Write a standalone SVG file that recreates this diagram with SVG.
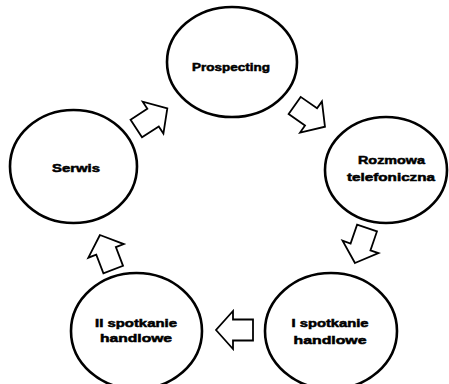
<svg xmlns="http://www.w3.org/2000/svg" xmlns:xlink="http://www.w3.org/1999/xlink" width="449" height="384" viewBox="0 0 449 384">
  <style>
    .stage { fill: #ffffff; stroke: #000000; stroke-width: 2.6; }
    .flow { fill: #ffffff; stroke: #000000; stroke-width: 1.8; stroke-linejoin: miter; }
    .label { font-family: "Liberation Sans", Arial, sans-serif; font-size: 11px; font-weight: bold; fill: #000000; stroke: #000000; stroke-width: 0.5; text-anchor: middle; }
  </style>
  <defs>
    <!-- block arrow pointing along +x, centred on the origin -->
    <path id="block-arrow" class="flow" d="M18.5,0 L1.5,-19 L1.5,-10.5 L-18.5,-10.5 L-18.5,10.5 L1.5,10.5 L1.5,19 Z"/>
  </defs>
  <rect width="449" height="384" fill="#ffffff"/>

  <g id="connectors">
    <use xlink:href="#block-arrow" transform="translate(309.8,116.1) rotate(35)"/>
    <use xlink:href="#block-arrow" transform="translate(361,245.5) rotate(109)"/>
    <use xlink:href="#block-arrow" transform="translate(234.5,330) rotate(180)"/>
    <use xlink:href="#block-arrow" transform="translate(106.6,252.3) rotate(-111)"/>
    <use xlink:href="#block-arrow" transform="translate(151.8,118.4) rotate(-33)"/>
  </g>

  <g id="prospecting">
    <ellipse class="stage" cx="232" cy="62" rx="65" ry="55"/>
    <text class="label" x="231" y="71" textLength="78" lengthAdjust="spacingAndGlyphs">Prospecting</text>
  </g>

  <g id="rozmowa">
    <ellipse class="stage" cx="386" cy="170" rx="61" ry="53"/>
    <text class="label" x="391.5" y="164" textLength="67" lengthAdjust="spacingAndGlyphs">Rozmowa</text>
    <text class="label" x="391" y="181" textLength="88" lengthAdjust="spacingAndGlyphs">telefoniczna</text>
  </g>

  <g id="spotkanie-1">
    <ellipse class="stage" cx="331" cy="331" rx="66" ry="58"/>
    <text class="label" x="330" y="327" textLength="77" lengthAdjust="spacingAndGlyphs">I spotkanie</text>
    <text class="label" x="330" y="344" textLength="73" lengthAdjust="spacingAndGlyphs">handlowe</text>
  </g>

  <g id="spotkanie-2">
    <ellipse class="stage" cx="136.5" cy="331" rx="65.5" ry="58"/>
    <text class="label" x="136" y="327" textLength="82" lengthAdjust="spacingAndGlyphs">II spotkanie</text>
    <text class="label" x="136" y="342" textLength="72" lengthAdjust="spacingAndGlyphs">handlowe</text>
  </g>

  <g id="serwis">
    <ellipse class="stage" cx="73.5" cy="166.5" rx="63.5" ry="56.5"/>
    <text class="label" x="76" y="172" textLength="48" lengthAdjust="spacingAndGlyphs">Serwis</text>
  </g>
</svg>
